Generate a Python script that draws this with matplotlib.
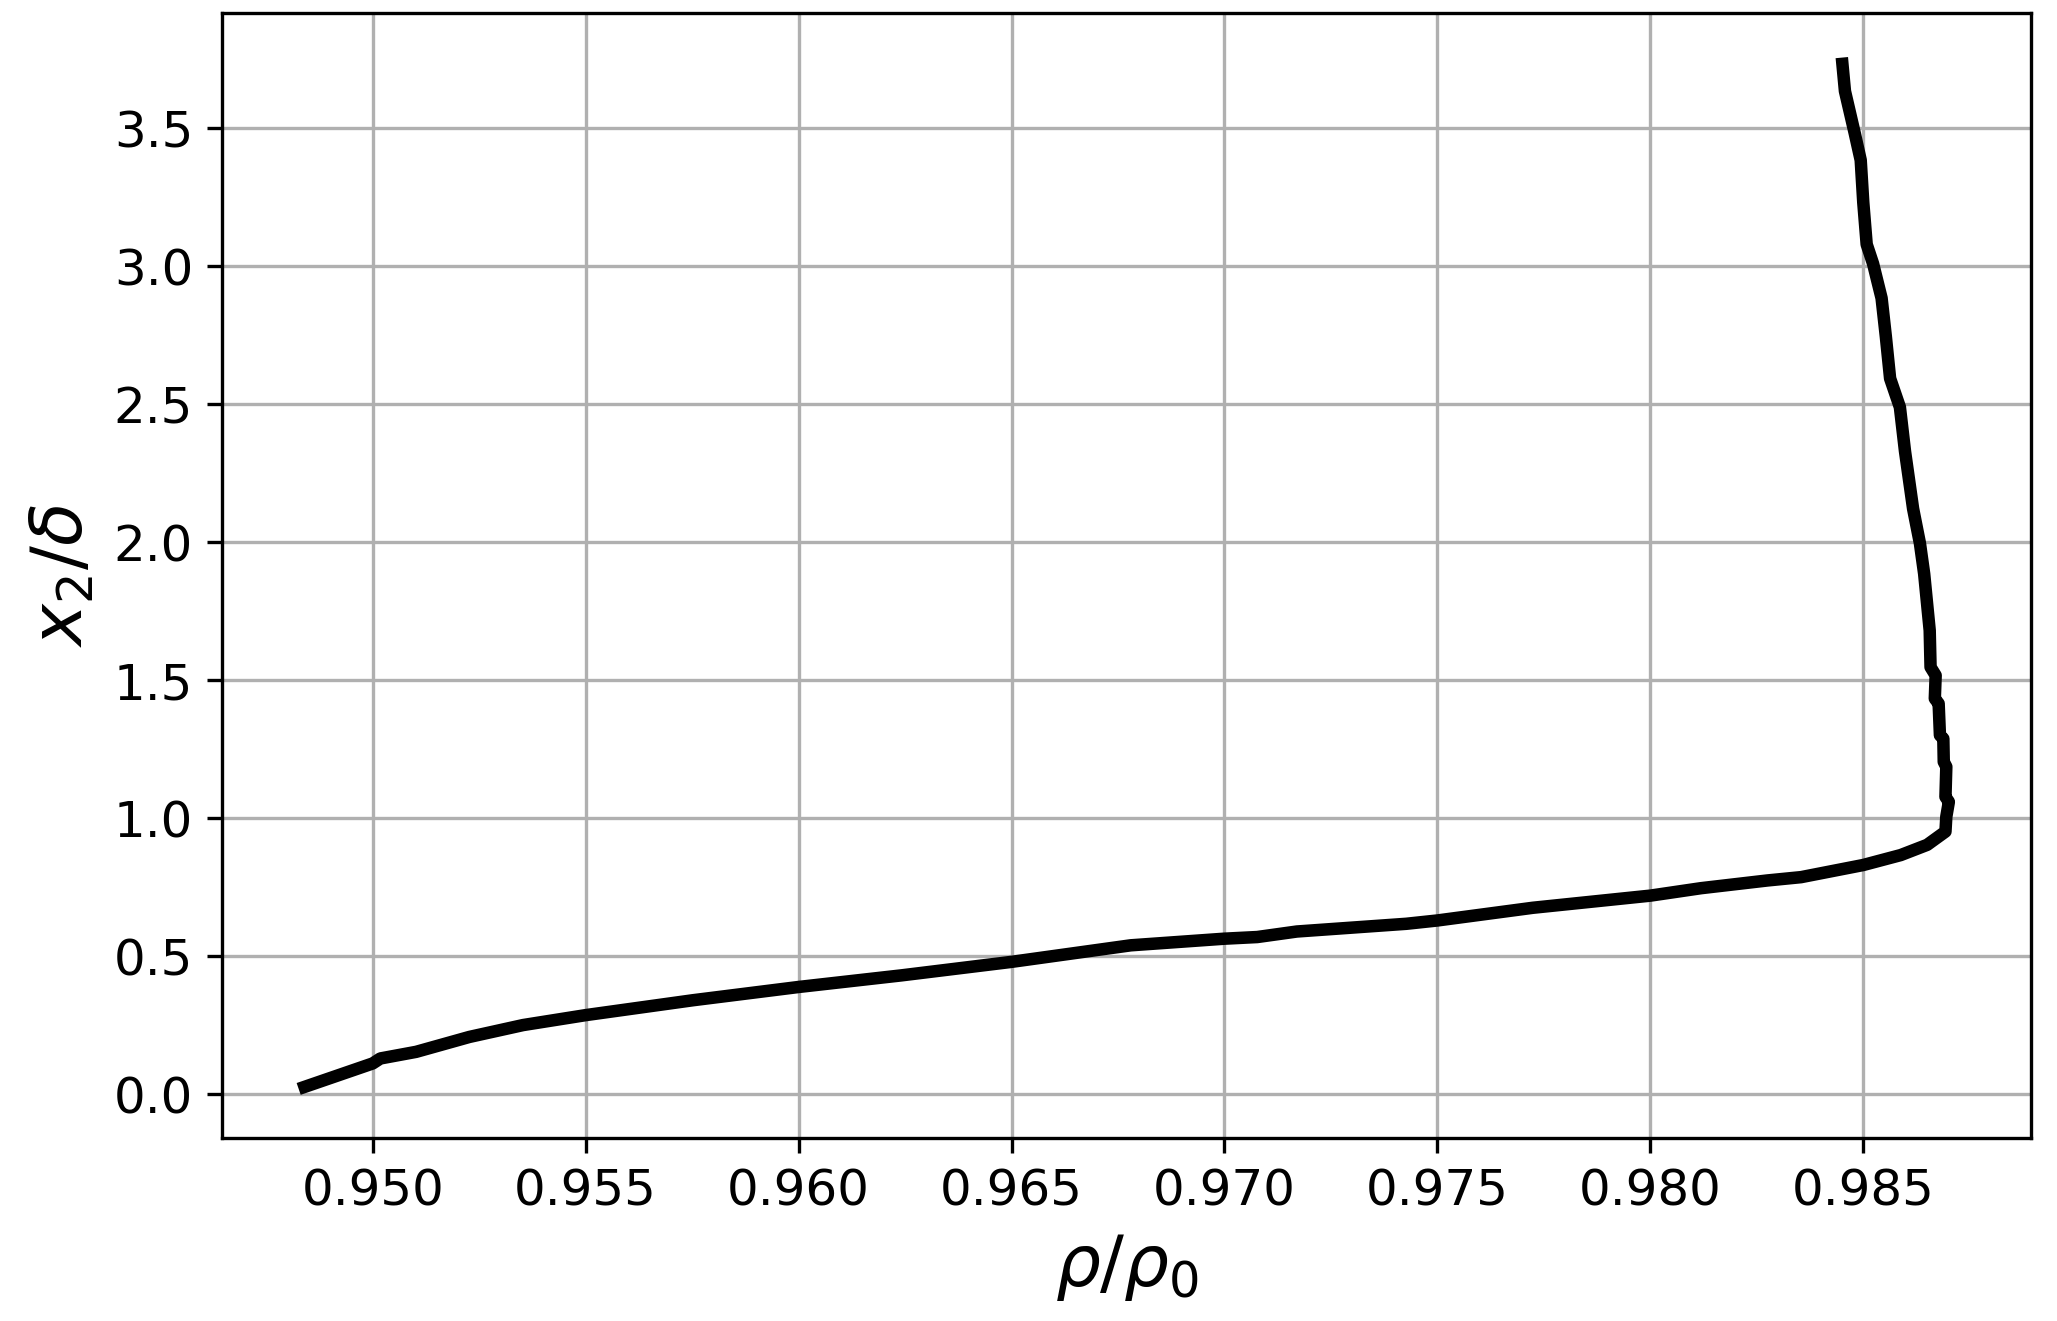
import matplotlib
matplotlib.use("Agg")
import matplotlib.pyplot as plt
import numpy as np

# density profile rho/rho0 against wall-normal coordinate x2/delta
rho = [0.9484, 0.9500, 0.95018, 0.95102, 0.95227, 0.95353, 0.9550, 0.95752,
       0.9600, 0.96241, 0.9650, 0.9678, 0.9700, 0.97077, 0.9717, 0.97427,
       0.9750, 0.97724, 0.9800, 0.98119, 0.98275, 0.98354, 0.9850, 0.98588,
       0.9865, 0.98693, 0.98695, 0.98701, 0.98693, 0.98695, 0.98689, 0.98688,
       0.9868, 0.98677, 0.98668, 0.9867, 0.98658, 0.98656, 0.98643, 0.98633,
       0.98617, 0.98598, 0.98586, 0.98563, 0.98553, 0.98543, 0.98523, 0.98508,
       0.9850, 0.98494, 0.9848, 0.98457, 0.98451]
x2 = [0.027, 0.112, 0.130, 0.154, 0.208, 0.251, 0.287, 0.341,
      0.389, 0.431, 0.480, 0.540, 0.564, 0.570, 0.590, 0.618,
      0.630, 0.676, 0.720, 0.747, 0.775, 0.787, 0.831, 0.867,
      0.904, 0.952, 1.006, 1.060, 1.078, 1.187, 1.205, 1.289,
      1.301, 1.416, 1.434, 1.518, 1.548, 1.681, 1.886, 1.997,
      2.122, 2.330, 2.490, 2.594, 2.746, 2.885, 3.010, 3.080,
      3.232, 3.385, 3.482, 3.635, 3.734]

fig = plt.figure(figsize=(2057 / 300, 1321 / 300), dpi=300)
ax = fig.add_axes([0.1081, 0.1385, 0.9874 - 0.1081, 0.9904 - 0.1385])

ax.plot(rho, x2, color="black", linewidth=3)
ax.grid(True)
ax.set_axisbelow(True)

ax.set_xlabel(r"$\rho/\rho_0$", fontsize=17)
ax.set_ylabel(r"$x_2/\delta$", fontsize=17)
ax.tick_params(labelsize=12)

fig.savefig("out.png", dpi=300)
